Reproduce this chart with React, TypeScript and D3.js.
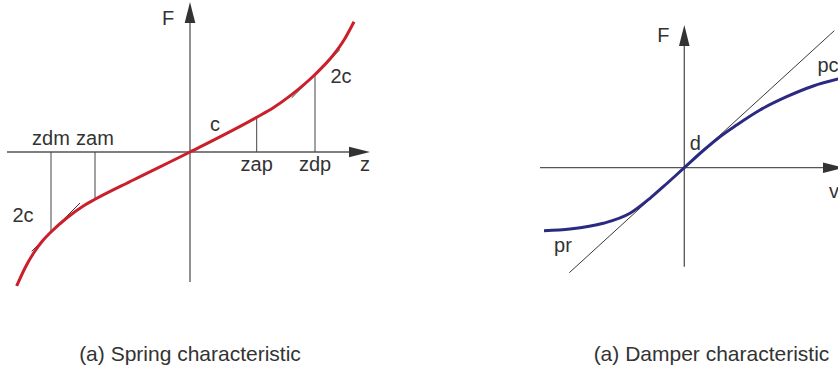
import React from 'react';
import * as d3 from 'd3';

// Spring force–deflection curve (z, F), arbitrary units
const springZ = [-17.33, -16.5, -15.67, -14.8, -13.9, -12.33, -10.67, -9.5, -5.67, 0, 6.67, 8.33, 10.0, 12.5, 14.33, 15.4, 16.4];
const springF = [-13.4, -11.6, -10.15, -8.95, -8.0, -6.6, -5.39, -4.73, -2.8, 0, 3.47, 4.42, 5.61, 7.75, 9.7, 11.2, 13.03];

// Breakpoints on the z axis and the curve value at each
const springMarkNames = ['zdm', 'zam', 'zap', 'zdp'];
const springMarkZ = [-13.9, -9.5, 6.67, 12.5];
const springMarkF = [-8.0, -4.73, 3.47, 7.75];

// Tangent segments of slope 2c at zdm and zdp
const springTangentZ = [[-15.83, -11.0], [10.17, 15.0]];
const springTangentF = [[-9.93, -5.1], [5.42, 10.25]];

// Damper force–velocity curve (v, F)
const damperV = [-14.03, -11.43, -8.1, -5.43, -3.43, -2.1, 0, 1.9, 3.57, 5.24, 7.57, 10.24, 12.9, 15.4];
const damperF = [-6.3, -6.13, -5.56, -4.56, -3.06, -1.9, 0, 1.72, 3.1, 4.27, 5.77, 7.1, 8.17, 8.87];

// Linear damping line of slope d
const damperLineV = [-11.5, 15.0];
const damperLineF = [-10.5, 13.7];

const TEXT = '#333333';
const AXIS = '#555555';
const FONT = '"Liberation Sans", Arial, Helvetica, sans-serif';

function Arrow({ x, y, dir }: { x: number; y: number; dir: 'up' | 'right' }) {
  const len = 21;
  const half = 5.3;
  const d =
    dir === 'up'
      ? `M${x},${y}L${x - half},${y + len}L${x + half},${y + len}Z`
      : `M${x},${y}L${x - len},${y - half}L${x - len},${y + half}Z`;
  return <path d={d} fill="#333" />;
}

function SpringPanel() {
  // 10 px per unit, origin at (190, 152)
  const x = d3.scaleLinear().domain([-18.3, 18]).range([7, 370]);
  const y = d3.scaleLinear().domain([-13, 15]).range([282, 2]);
  const line = d3
    .line<number>()
    .x((_, i) => x(springZ[i]))
    .y((_, i) => y(springF[i]))
    .curve(d3.curveMonotoneX);
  const [x0, x1] = x.range();
  const [yb, yt] = y.range();
  return (
    <g>
      {/* axes */}
      <line x1={x0} x2={x1 - 15} y1={y(0)} y2={y(0)} stroke={AXIS} strokeWidth={1.3} />
      <line x1={x(0)} x2={x(0)} y1={yb} y2={yt + 15} stroke={AXIS} strokeWidth={1.3} />
      <Arrow x={x1} y={y(0)} dir="right" />
      <Arrow x={x(0)} y={yt} dir="up" />
      {/* breakpoint verticals */}
      {springMarkZ.map((z, i) => (
        <line key={i} x1={x(z)} x2={x(z)} y1={y(0)} y2={y(springMarkF[i])} stroke="#444" strokeWidth={1} />
      ))}
      {/* tangents */}
      {springTangentZ.map((zz, i) => (
        <line
          key={i}
          x1={x(zz[0])}
          x2={x(zz[1])}
          y1={y(springTangentF[i][0])}
          y2={y(springTangentF[i][1])}
          stroke="#222"
          strokeWidth={0.9}
        />
      ))}
      <path d={line(springZ) || ''} fill="none" stroke="#c9202b" strokeWidth={3} />
      {/* labels */}
      <g fill={TEXT} fontFamily={FONT} fontSize={20} textAnchor="middle">
        {springMarkNames.map((n, i) => (
          <text key={n} x={x(springMarkZ[i])} y={springMarkZ[i] < 0 ? y(0) - 7 : y(0) + 19}>
            {n}
          </text>
        ))}
        <text x={365} y={y(0) + 19}>z</text>
        <text x={x(0) - 22} y={25}>F</text>
        <text x={x(0) + 25} y={131}>c</text>
        <text x={23} y={222}>2c</text>
        <text x={341} y={83}>2c</text>
      </g>
    </g>
  );
}

function DamperPanel() {
  // 10 px per unit, origin at (684.3, 167.7)
  const x = d3.scaleLinear().domain([-14.43, 15.97]).range([540, 844]);
  const y = d3.scaleLinear().domain([-9.9, 14.27]).range([266.7, 25]);
  const curve = d3
    .line<number>()
    .x((_, i) => x(damperV[i]))
    .y((_, i) => y(damperF[i]))
    .curve(d3.curveMonotoneX);
  const [x0, x1] = x.range();
  const [yb, yt] = y.range();
  return (
    <g>
      <line x1={x0} x2={x1 - 15} y1={y(0)} y2={y(0)} stroke={AXIS} strokeWidth={1.3} />
      <line x1={x(0)} x2={x(0)} y1={yb} y2={yt + 15} stroke={AXIS} strokeWidth={1.3} />
      <Arrow x={x1} y={y(0)} dir="right" />
      <Arrow x={x(0)} y={yt} dir="up" />
      <line
        x1={x(damperLineV[0])}
        x2={x(damperLineV[1])}
        y1={y(damperLineF[0])}
        y2={y(damperLineF[1])}
        stroke="#222"
        strokeWidth={0.9}
      />
      <path d={curve(damperV) || ''} fill="none" stroke="#2c2a80" strokeWidth={3} />
      <g fill={TEXT} fontFamily={FONT} fontSize={20} textAnchor="middle">
        <text x={x(0) - 21} y={42}>F</text>
        <text x={x(0) + 11} y={150}>d</text>
        <text x={828} y={72}>pc</text>
        <text x={563} y={252}>pr</text>
        <text x={834} y={198}>v</text>
      </g>
    </g>
  );
}

export default function App() {
  return (
    <svg
      width={838}
      height={371}
      viewBox="0 0 838 371"
      style={{ position: 'absolute', left: 0, top: 0, background: '#fff' }}
    >
      <rect width={838} height={371} fill="#fff" />
      <SpringPanel />
      <DamperPanel />
      <g fill={TEXT} fontFamily={FONT} fontSize={21} textAnchor="middle">
        <text x={190} y={361}>(a) Spring characteristic</text>
        <text x={711.5} y={361}>(a) Damper characteristic</text>
      </g>
    </svg>
  );
}
